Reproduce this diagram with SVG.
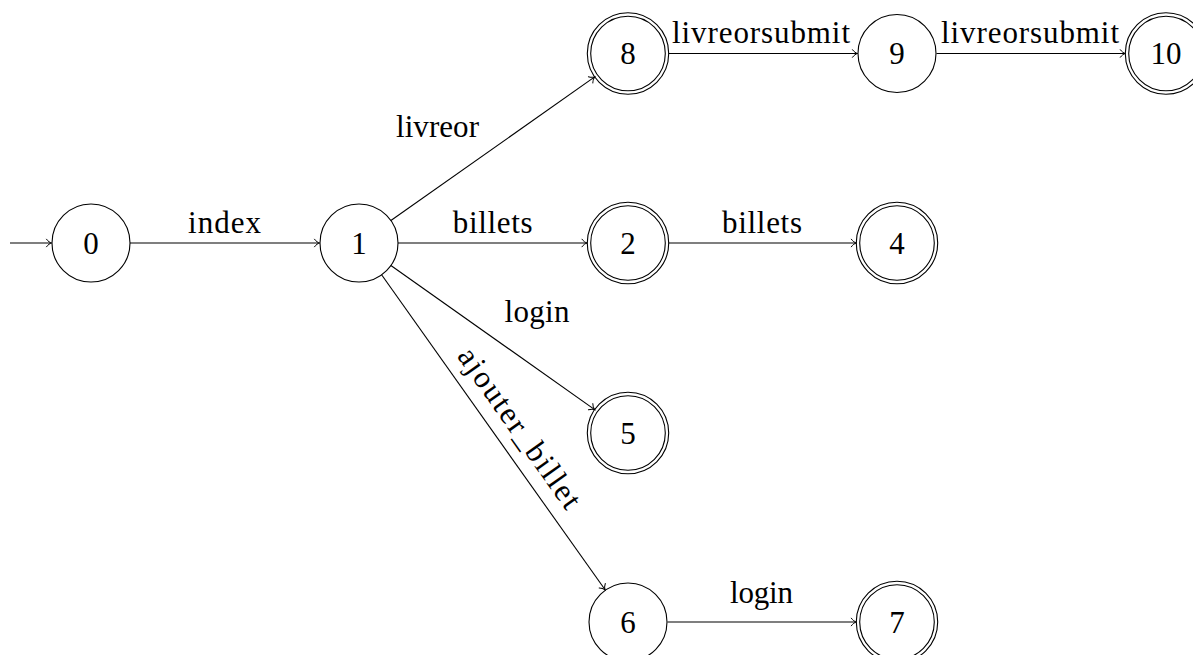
<svg xmlns="http://www.w3.org/2000/svg" width="1193" height="655" viewBox="0 0 1193 655" font-family="'Liberation Serif', 'DejaVu Serif', serif">
<style>
.st{fill:none;stroke:#000;stroke-width:1.1}
.e{fill:none;stroke:#000;stroke-width:1.1;marker-end:url(#arr)}
text{font-family:'Liberation Serif','DejaVu Serif',serif;font-size:31px;fill:#000;text-anchor:middle}
</style>
<defs>
<marker id="arr" markerUnits="userSpaceOnUse" markerWidth="12" markerHeight="12" viewBox="-6 -6 12 12" refX="0" refY="0" orient="auto" overflow="visible">
<path d="M -5,-3.8 C -3.5,-1.6 -1.4,-0.4 0,0 C -1.4,0.4 -3.5,1.6 -5,3.8" fill="none" stroke="#000" stroke-width="1" stroke-linecap="round"/>
</marker>
</defs>
<rect width="1193" height="655" fill="#fff"/>
<g id="connectors">
<line class="e" x1="10" y1="243" x2="51.5" y2="243"/>
<line class="e" x1="130" y1="243" x2="319.5" y2="243"/>
<line class="e" x1="398" y1="243" x2="587" y2="243"/>
<line class="e" x1="668.7" y1="243" x2="856.3" y2="243"/>
<line class="e" x1="390.9" y1="220.5" x2="594.7" y2="76.9"/>
<line class="e" x1="668.7" y1="53.5" x2="857.5" y2="53.5"/>
<line class="e" x1="936.5" y1="53.5" x2="1125.3" y2="53.5"/>
<line class="e" x1="390.9" y1="265.5" x2="594.7" y2="409.6"/>
<line class="e" x1="381.6" y1="274.8" x2="605.1" y2="589.8"/>
<line class="e" x1="667.5" y1="622" x2="856.3" y2="622"/>
<text x="224.5" y="233" textLength="73" lengthAdjust="spacing">index</text>
<text x="492.7" y="233" textLength="80" lengthAdjust="spacing">billets</text>
<text x="762" y="233" textLength="80" lengthAdjust="spacing">billets</text>
<text x="437.5" y="136.7" textLength="83" lengthAdjust="spacing">livreor</text>
<text x="761" y="43.3" textLength="178" lengthAdjust="spacing">livreorsubmit</text>
<text x="1030" y="43.3" textLength="178" lengthAdjust="spacing">livreorsubmit</text>
<text x="537" y="321.7" textLength="65" lengthAdjust="spacing">login</text>
<text x="761.5" y="603.3" textLength="63" lengthAdjust="spacing">login</text>
<text x="511.4" y="433.8" textLength="190" lengthAdjust="spacing" transform="rotate(54.63 511.4 433.8)">ajouter_billet</text>
</g>
<g id="node0"><circle class="st" cx="91" cy="243" r="39"/><text x="91" y="253.5">0</text></g>
<g id="node1"><circle class="st" cx="359" cy="243" r="39"/><text x="359" y="253.5">1</text></g>
<g id="node2"><circle class="st" cx="628" cy="243" r="40.7"/><circle class="st" cx="628" cy="243" r="37.3"/><text x="628" y="253.5">2</text></g>
<g id="node4"><circle class="st" cx="897" cy="243" r="40.7"/><circle class="st" cx="897" cy="243" r="37.3"/><text x="897" y="253.5">4</text></g>
<g id="node8"><circle class="st" cx="628" cy="53.5" r="40.7"/><circle class="st" cx="628" cy="53.5" r="37.3"/><text x="628" y="64">8</text></g>
<g id="node9"><circle class="st" cx="897" cy="53.5" r="39"/><text x="897" y="64">9</text></g>
<g id="node10"><circle class="st" cx="1166" cy="53.5" r="40.7"/><circle class="st" cx="1166" cy="53.5" r="37.3"/><text x="1166" y="64">10</text></g>
<g id="node5"><circle class="st" cx="628" cy="433" r="40.7"/><circle class="st" cx="628" cy="433" r="37.3"/><text x="628" y="443.5">5</text></g>
<g id="node6"><circle class="st" cx="628" cy="622" r="39"/><text x="628" y="632.5">6</text></g>
<g id="node7"><circle class="st" cx="897" cy="622" r="40.7"/><circle class="st" cx="897" cy="622" r="37.3"/><text x="897" y="632.5">7</text></g>
</svg>
